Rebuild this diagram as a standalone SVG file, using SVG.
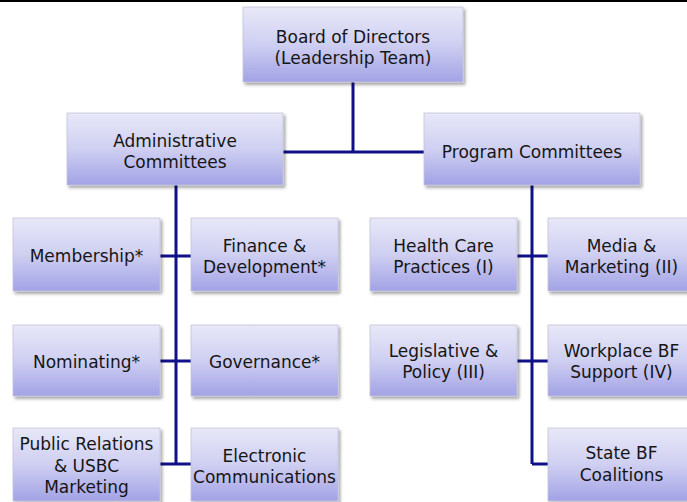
<svg xmlns="http://www.w3.org/2000/svg" width="687" height="502" viewBox="0 0 687 502">
<defs>
<linearGradient id="g" x1="0" y1="0" x2="0" y2="1">
<stop offset="0" stop-color="#e8e8f8"/>
<stop offset="0.5" stop-color="#cfcff2"/>
<stop offset="1" stop-color="#a2a2e6"/>
</linearGradient>
<filter id="sh" x="-10%" y="-10%" width="125%" height="130%">
<feDropShadow dx="2" dy="2.5" stdDeviation="1.5" flood-color="#000" flood-opacity="0.35"/>
</filter>
<style>
.box{fill:url(#g);stroke:#c4c4dc;stroke-width:0.8;filter:url(#sh)}
text{font-family:"DejaVu Sans",Verdana,sans-serif;font-size:17px;fill:#151515;text-anchor:middle}
.c{fill:none;stroke:#10108a;stroke-width:3;stroke-linecap:butt}
</style>
</defs>
<rect x="0" y="0" width="687" height="2" fill="#000"/>

<g id="connectors">
<path class="c" d="M353,82 V152 M283,152 H424"/>
<path class="c" d="M176,185 V464 M160,256 H191 M160,361 H191 M160,464 H191"/>
<path class="c" d="M532,185 V464 M517,256 H548 M517,361 H548 M532,464 H548"/>
</g>

<g id="board">
<rect class="box" x="243" y="7" width="220" height="75"/>
<text x="353" y="43">Board of Directors</text>
<text x="353" y="64">(Leadership Team)</text>
</g>
<g id="admin">
<rect class="box" x="67" y="113" width="216" height="72"/>
<text x="175" y="147">Administrative</text>
<text x="175" y="168">Committees</text>
</g>
<g id="program">
<rect class="box" x="424" y="113" width="216" height="72"/>
<text x="532" y="158">Program Committees</text>
</g>

<g id="membership">
<rect class="box" x="13" y="218" width="147" height="73"/>
<text x="86.5" y="262">Membership*</text>
</g>
<g id="finance">
<rect class="box" x="191" y="218" width="147" height="73"/>
<text x="264.5" y="252">Finance &amp;</text>
<text x="264.5" y="273">Development*</text>
</g>
<g id="nominating">
<rect class="box" x="13" y="325" width="147" height="71"/>
<text x="86.5" y="368">Nominating*</text>
</g>
<g id="governance">
<rect class="box" x="191" y="325" width="147" height="71"/>
<text x="264.5" y="368">Governance*</text>
</g>
<g id="publicrelations">
<rect class="box" x="13" y="428" width="147" height="73"/>
<text x="86.5" y="450">Public Relations</text>
<text x="86.5" y="471.5">&amp; USBC</text>
<text x="86.5" y="493">Marketing</text>
</g>
<g id="electronic">
<rect class="box" x="191" y="428" width="147" height="73"/>
<text x="264.5" y="461.5">Electronic</text>
<text x="264.5" y="482.5">Communications</text>
</g>

<g id="healthcare">
<rect class="box" x="370" y="218" width="147" height="73"/>
<text x="443.5" y="252">Health Care</text>
<text x="443.5" y="273">Practices (I)</text>
</g>
<g id="media">
<rect class="box" x="548" y="218" width="147" height="73"/>
<text x="621.5" y="252">Media &amp;</text>
<text x="621.5" y="273">Marketing (II)</text>
</g>
<g id="legislative">
<rect class="box" x="370" y="325" width="147" height="71"/>
<text x="443.5" y="357">Legislative &amp;</text>
<text x="443.5" y="378">Policy (III)</text>
</g>
<g id="workplace">
<rect class="box" x="548" y="325" width="147" height="71"/>
<text x="621.5" y="357">Workplace BF</text>
<text x="621.5" y="378">Support (IV)</text>
</g>
<g id="statebf">
<rect class="box" x="548" y="428" width="147" height="73"/>
<text x="621.5" y="459">State BF</text>
<text x="621.5" y="480.5">Coalitions</text>
</g>
</svg>
